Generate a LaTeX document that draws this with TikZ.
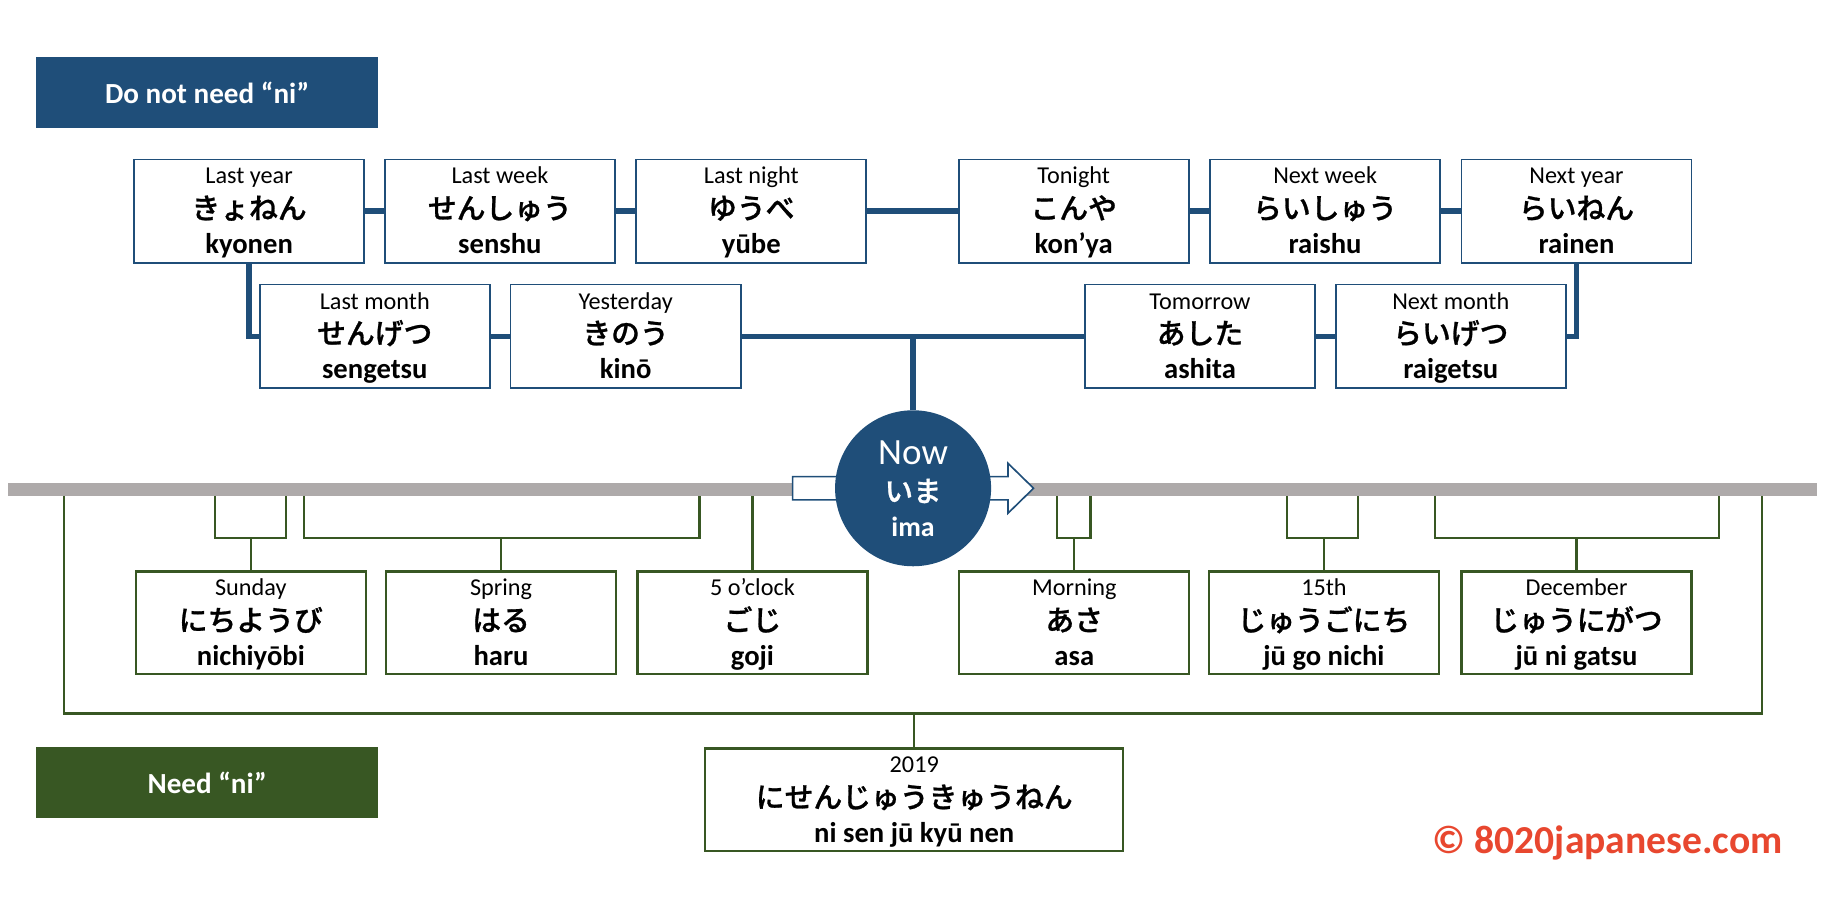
\documentclass[tikz,border=0pt]{standalone}
\usepackage{fontspec}
\setmainfont{Carlito}
\newfontfamily\jpfont{Noto Sans CJK JP Medium}[AutoFakeBold=0.9]
\usetikzlibrary{calc}
\definecolor{dblue}{HTML}{1F4E79}
\definecolor{dgreen}{HTML}{385723}
\definecolor{barg}{HTML}{AEAAAA}
\definecolor{cred}{HTML}{E8472F}
\tikzset{
 bbox/.style={draw=dblue, line width=1.1pt, fill=white, minimum width=4.94cm, minimum height=2.225cm, inner sep=0pt, outer sep=0pt},
 gbox/.style={draw=dgreen, line width=1.4pt, fill=white, minimum width=4.94cm, minimum height=2.2cm, inner sep=0pt, outer sep=0pt},
 engtxt/.style={anchor=base, inner sep=0pt, font=\fontsize{14.8}{16}\selectfont},
 kanatxt/.style={anchor=base, inner sep=0pt, font=\jpfont\bfseries\fontsize{17.6}{19}\selectfont},
 romtxt/.style={anchor=base, inner sep=0pt, font=\bfseries\fontsize{17.5}{19}\selectfont},
 bconn/.style={draw=dblue, line width=3.4pt},
 gconn/.style={draw=dgreen, line width=1.4pt},
 titlebox/.style={minimum width=7.35cm, minimum height=1.525cm, inner sep=0pt, text=white, font=\bfseries\fontsize{17.8}{20}\selectfont},
}
\newcommand\tlbox[7]{%
 \node[#4] (#1) at (#2,#3) {};
 \node[engtxt] (#1-e) at ($(#1.north)+(0,21)$) {#5};
 \node[kanatxt] (#1-k) at ($(#1.north)+(0,51)$) {#6};
 \node[romtxt] (#1-r) at ($(#1.north)+(0,81)$) {#7};
}
\begin{document}
\begin{tikzpicture}[x=0.025cm, y=-0.025cm]
\useasboundingbox (0,0) rectangle (1568,785);

% title boxes
\node[titlebox, fill=dblue] (dnn) at (178,79.5) {Do not need “ni”};
\node[titlebox, fill=dgreen] (need) at (178,672.5) {Need “ni”};

% top rows
\tlbox{lastyear}{214}{181.5}{bbox}{Last year}{きょねん}{kyonen}
\tlbox{lastweek}{429.5}{181.5}{bbox}{Last week}{せんしゅう}{senshu}
\tlbox{lastnight}{645.5}{181.5}{bbox}{Last night}{ゆうべ}{yūbe}
\tlbox{tonight}{922.5}{181.5}{bbox}{Tonight}{こんや}{kon’ya}
\tlbox{nextweek}{1138.5}{181.5}{bbox}{Next week}{らいしゅう}{raishu}
\tlbox{nextyear}{1354.5}{181.5}{bbox}{Next year}{らいねん}{rainen}
\tlbox{lastmonth}{322}{289}{bbox}{Last month}{せんげつ}{sengetsu}
\tlbox{yesterday}{537.5}{289}{bbox}{Yesterday}{きのう}{kinō}
\tlbox{tomorrow}{1031}{289}{bbox}{Tomorrow}{あした}{ashita}
\tlbox{nextmonth}{1246.5}{289}{bbox}{Next month}{らいげつ}{raigetsu}

% timeline bar
\node[fill=barg, minimum width=38.85cm, minimum height=0.28cm, inner sep=0pt, outer sep=0pt] (bar) at (784,420.5) {};
% hollow arrow
\draw[draw=dblue, fill=white, line width=1pt, line join=miter]
 (681,409.5) -- (866,409.5) -- (866,398) -- (888,419.5) -- (866,441) -- (866,429.5) -- (681,429.5) -- cycle;
% now circle
\node[circle, fill=dblue, minimum size=3.35cm, inner sep=0pt, outer sep=0pt] (now) at (784.5,419.5) {};
\node[anchor=base, inner sep=0pt, text=white, font=\fontsize{22.6}{24}\selectfont] (now-e) at (784.5,399) {Now};
\node[anchor=base, inner sep=0pt, text=white, font=\jpfont\bfseries\fontsize{17.4}{19}\selectfont] (now-k) at (784.5,431) {いま};
\node[anchor=base, inner sep=0pt, text=white, font=\bfseries\fontsize{17}{19}\selectfont] (now-r) at (784.5,461) {ima};

% blue connectors
\draw[bconn] (lastyear.east) -- (lastweek.west);
\draw[bconn] (lastweek.east) -- (lastnight.west);
\draw[bconn] (lastnight.east) -- (tonight.west);
\draw[bconn] (tonight.east) -- (nextweek.west);
\draw[bconn] (nextweek.east) -- (nextyear.west);
\draw[bconn] (lastyear.south) |- (lastmonth.west);
\draw[bconn] (lastmonth.east) -- (yesterday.west);
\draw[bconn] (yesterday.east) -- (tomorrow.west);
\draw[bconn] (tomorrow.east) -- (nextmonth.west);
\draw[bconn] (nextyear.south) |- (nextmonth.east);
\draw[bconn] (now.north) -- (now.north |- yesterday.east);

% bottom row
\tlbox{sunday}{215.5}{535}{gbox}{Sunday}{にちようび}{nichiyōbi}
\tlbox{spring}{430.5}{535}{gbox}{Spring}{はる}{haru}
\tlbox{fiveoclock}{646.5}{535}{gbox}{5 o’clock}{ごじ}{goji}
\tlbox{morning}{923}{535}{gbox}{Morning}{あさ}{asa}
\tlbox{fifteenth}{1137.5}{535}{gbox}{15th}{じゅうごにち}{jū go nichi}
\tlbox{december}{1354.5}{535}{gbox}{December}{じゅうにがつ}{jū ni gatsu}
\node[gbox, minimum width=8.975cm] (y2019) at (785.5,687) {};
\node[engtxt] (y2019-e) at ($(y2019.north)+(0,21)$) {2019};
\node[kanatxt] (y2019-k) at ($(y2019.north)+(0,51)$) {にせんじゅうきゅうねん};
\node[romtxt] (y2019-r) at ($(y2019.north)+(0,81)$) {ni sen jū kyū nen};

% green connectors
\coordinate (sunL) at (185,462); \coordinate (sunR) at (246,462);
\coordinate (sprL) at (261,462); \coordinate (sprR) at (601,462);
\coordinate (morL) at (908,462); \coordinate (morR) at (937,462);
\coordinate (fifL) at (1106,462); \coordinate (fifR) at (1167,462);
\coordinate (decL) at (1233,462); \coordinate (decR) at (1477,462);
\coordinate (outL) at (55,613); \coordinate (outR) at (1514,613);
\foreach \b/\n in {sun/sunday, spr/spring, mor/morning, fif/fifteenth, dec/december}{
 \draw[gconn] (\b L |- bar.south) -- (\b L) -- (\b R) -- (\b R |- bar.south);
 \draw[gconn] (\n.north) -- (\n.north |- \b L);
}
\draw[gconn] (fiveoclock.north) -- (fiveoclock.north |- bar.south);
\draw[gconn] (outL |- bar.south) -- (outL) -- (outR) -- (outR |- bar.south);
\draw[gconn] (y2019.north) -- (y2019.north |- outL);

% copyright
\node[anchor=base east, inner sep=0pt, text=cred, font=\bfseries\fontsize{24.2}{28}\selectfont] (copy) at (1532,733) {© 8020japanese.com};
\end{tikzpicture}
\end{document}
